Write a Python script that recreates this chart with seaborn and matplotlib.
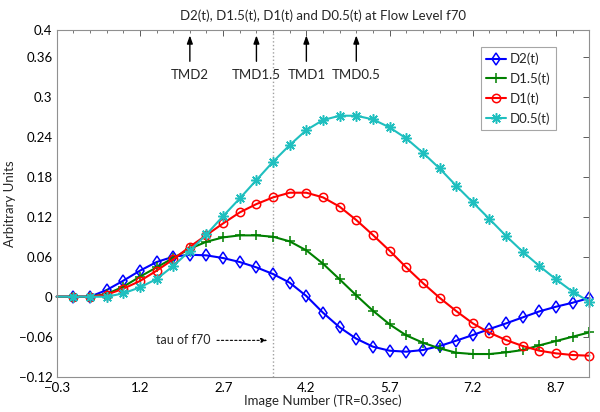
import numpy as np
import pandas as pd
import matplotlib
matplotlib.use("Agg")
import matplotlib.pyplot as plt
import seaborn as sns
from matplotlib.ticker import FixedLocator, MultipleLocator

# ---- data ----
image_number = [-0.3, 0.0, 0.3, 0.6, 0.9, 1.2, 1.5, 1.8, 2.1, 2.4, 2.7, 3.0, 3.3, 3.6, 3.9, 4.2,
                4.5, 4.8, 5.1, 5.4, 5.7, 6.0, 6.3, 6.6, 6.9, 7.2, 7.5, 7.8, 8.1, 8.4, 8.7, 9.0, 9.3]

d2 = [0, 0, 0, 0.010, 0.024, 0.039, 0.052, 0.060, 0.063, 0.062, 0.058, 0.052, 0.044, 0.034, 0.021, 0.001,
      -0.024, -0.046, -0.063, -0.075, -0.081, -0.0825, -0.080, -0.074, -0.066, -0.0575, -0.0485,
      -0.040, -0.031, -0.022, -0.015, -0.009, -0.002]
d15 = [0, 0, 0, 0.004, 0.015, 0.030, 0.044, 0.058, 0.072, 0.0825, 0.089, 0.092, 0.092, 0.090, 0.083, 0.0695,
       0.0495, 0.026, 0.002, -0.021, -0.0415, -0.058, -0.069, -0.0775, -0.084, -0.086, -0.086,
       -0.0835, -0.080, -0.073, -0.0665, -0.060, -0.0535]
d1 = [0, 0, 0, 0.003, 0.012, 0.0235, 0.039, 0.056, 0.075, 0.0925, 0.110, 0.1265, 0.139, 0.149, 0.156, 0.156,
      0.149, 0.135, 0.115, 0.0925, 0.069, 0.044, 0.0205, -0.0015, -0.0215, -0.040, -0.054,
      -0.065, -0.074, -0.081, -0.085, -0.0875, -0.0885]
d05 = [0, 0, 0, 0, 0.005, 0.014, 0.0265, 0.046, 0.069, 0.0935, 0.121, 0.1475, 0.175, 0.2025, 0.2275, 0.250,
       0.265, 0.2715, 0.2715, 0.266, 0.254, 0.2375, 0.216, 0.1925, 0.1665, 0.1415, 0.1165,
       0.091, 0.0675, 0.046, 0.026, 0.0075, -0.0075]

series_names = ["D2(t)", "D1.5(t)", "D1(t)", "D0.5(t)"]
series_values = [d2, d15, d1, d05]

x_ticks = [-0.3, 1.2, 2.7, 4.2, 5.7, 7.2, 8.7]
y_ticks = [-0.12, -0.06, 0, 0.06, 0.12, 0.18, 0.24, 0.3, 0.36, 0.4]
y_tick_labels = ["\u22120.12", "\u22120.06", "0", "0.06", "0.12", "0.18", "0.24", "0.3", "0.36", "0.4"]

tmd_labels = ["TMD2", "TMD1.5", "TMD1", "TMD0.5"]
tmd_positions = [2.1, 3.3, 4.2, 5.1]
tau_value = 3.6

# ---- style ----
sns.set_style("white")
plt.rcParams["font.family"] = ["Lato", "DejaVu Sans"]

colors = ["#0000ff", "#008000", "#ff0000", "#1fbfbf"]
markers = ["d", "+", "o", (8, 2, 0)]
msizes = [6.5, 7.5, 6.0, 7.5]

fig = plt.figure(figsize=(6.0, 4.12), dpi=100)
ax = fig.add_axes([0.0945, 0.0857, 0.8877, 0.8413])

for name, vals, c, m, ms in zip(series_names, series_values, colors, markers, msizes):
    df = pd.DataFrame({"x": image_number, "y": vals})
    sns.lineplot(data=df, x="x", y="y", ax=ax, color=c, marker=m, markersize=ms,
                 markerfacecolor="none", markeredgecolor=c, markeredgewidth=1.1,
                 linewidth=1.5, label=name, markevery=list(range(1, len(vals))),
                 clip_on=False, sort=False)

ax.axvline(tau_value, color="#a0a0a0", linestyle=":", linewidth=1.0, zorder=0.5)

ax.set_xlim(-0.3, 9.3)
ax.set_ylim(-0.12, 0.4)
ax.xaxis.set_major_locator(FixedLocator(x_ticks))
ax.xaxis.set_minor_locator(MultipleLocator(0.3))
ax.yaxis.set_major_locator(FixedLocator(y_ticks))
ax.set_yticklabels(y_tick_labels)
ax.set_xticklabels([f"{v:g}".replace("-", "\u2212") for v in x_ticks])

ax.tick_params(axis="both", which="both", direction="in", top=True, right=True,
               labelsize=9.5, colors="#404040", labelcolor="black")
ax.tick_params(axis="x", pad=4)
ax.tick_params(axis="y", pad=3)
ax.tick_params(which="major", length=4, width=0.6)
ax.tick_params(which="minor", length=2, width=0.5)
for s in ax.spines.values():
    s.set_color("#909090")
    s.set_linewidth(0.8)

ax.set_xlabel("Image Number (TR=0.3sec)", fontsize=9.5, labelpad=0)
ax.set_ylabel("Arbitrary Units", fontsize=9.5, labelpad=2)
ax.set_title("D2(t), D1.5(t), D1(t) and D0.5(t) at Flow Level f70", fontsize=9.5, pad=7)

for lab, xp in zip(tmd_labels, tmd_positions):
    ax.annotate(lab, xy=(xp, 0.392), xytext=(xp, 0.333), ha="center", va="center",
                fontsize=9.5,
                arrowprops=dict(arrowstyle="-|>,head_length=0.5,head_width=0.18",
                                color="black", lw=1.0, shrinkA=3, shrinkB=0))

ax.annotate("tau of f70", xy=(3.5, -0.0655), xytext=(2.48, -0.0655), ha="right", va="center",
            fontsize=9,
            arrowprops=dict(arrowstyle="-|>,head_length=0.4,head_width=0.15",
                            color="black", lw=0.8, linestyle=(0, (2, 2)), shrinkA=2, shrinkB=0))

leg = ax.legend(loc="upper right", bbox_to_anchor=(0.937, 0.95), fontsize=9.5,
                handlelength=1.5, handletextpad=0.3, borderpad=0.4, labelspacing=0.55,
                fancybox=False, frameon=True, edgecolor="#909090", borderaxespad=0)
leg.get_frame().set_linewidth(0.8)

fig.savefig("out.png", dpi=100)
